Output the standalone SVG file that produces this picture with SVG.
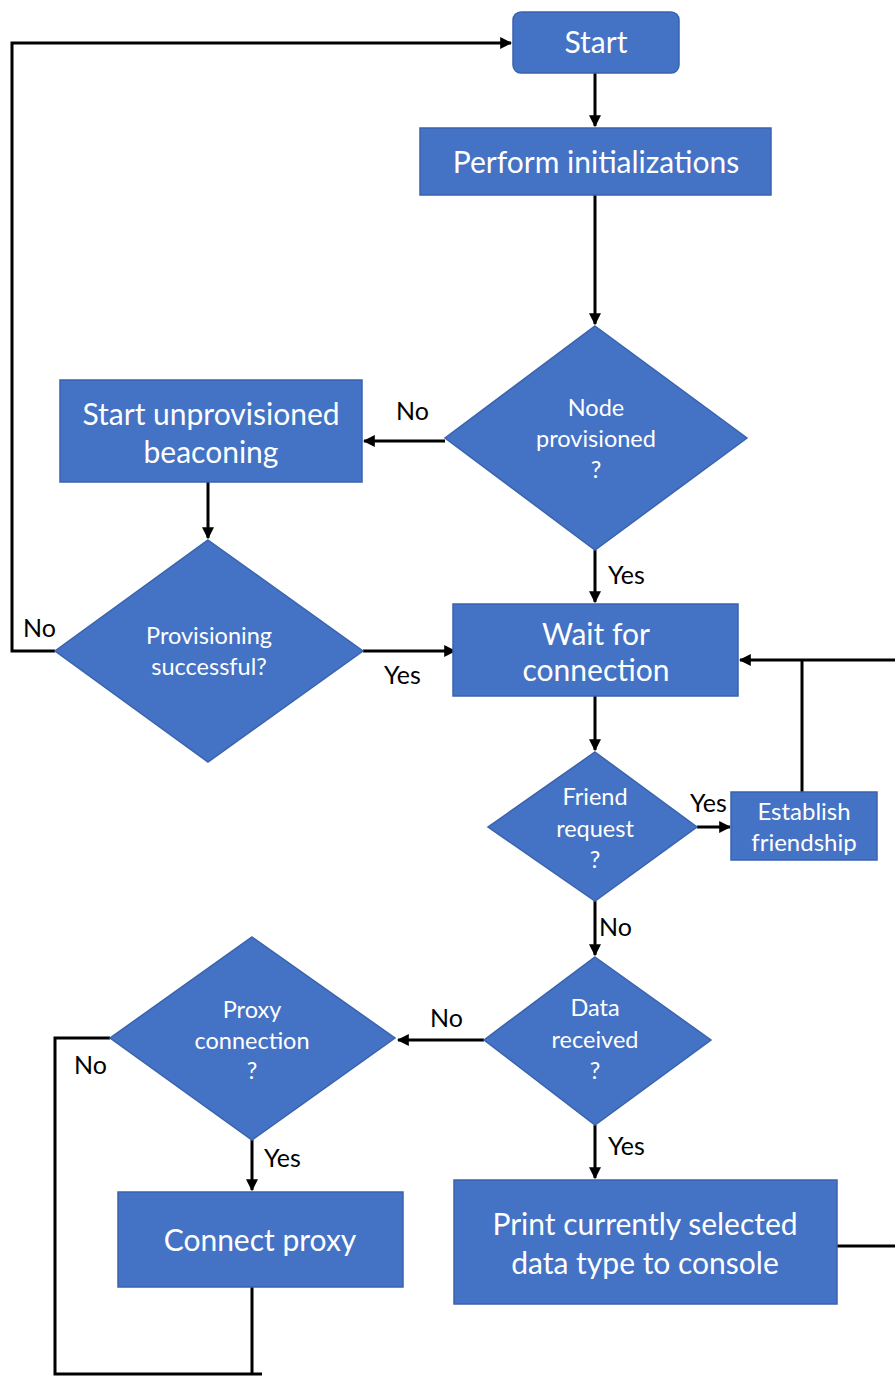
<svg xmlns="http://www.w3.org/2000/svg" width="895" height="1376" viewBox="0 0 895 1376">
<style>
.n{fill:#4472C4;stroke:#3A63AE;stroke-width:1.5}
.t{fill:#fff;font-family:Lato,"Open Sans",sans-serif;text-anchor:middle}
.b{font-size:30px}
.d{font-size:23.5px}
.l{fill:#000;font-family:Lato,"Open Sans",sans-serif;font-size:25px}
.c{fill:none;stroke:#000;stroke-width:3}
</style>
<defs>
<marker id="a" viewBox="0 0 10 10" refX="9" refY="5" markerWidth="4" markerHeight="4" orient="auto" markerUnits="strokeWidth">
<path d="M0,0L10,5L0,10z" fill="#000"/>
</marker>
</defs>
<rect width="895" height="1376" fill="#fff"/>
<g id="connectors">
<path class="c" d="M595,73V126" marker-end="url(#a)"/>
<path class="c" d="M595,195V324" marker-end="url(#a)"/>
<path class="c" d="M445,441H364" marker-end="url(#a)"/>
<path class="c" d="M208,482V538" marker-end="url(#a)"/>
<path class="c" d="M363,651H455" marker-end="url(#a)"/>
<path class="c" d="M55,651H12V43H511" marker-end="url(#a)"/>
<path class="c" d="M595,550V602" marker-end="url(#a)"/>
<path class="c" d="M895,660H740" marker-end="url(#a)"/>
<path class="c" d="M802,792V660"/>
<path class="c" d="M595,696V750" marker-end="url(#a)"/>
<path class="c" d="M697,827H730" marker-end="url(#a)"/>
<path class="c" d="M595,901V955" marker-end="url(#a)"/>
<path class="c" d="M484,1040H398" marker-end="url(#a)"/>
<path class="c" d="M252,1140V1190" marker-end="url(#a)"/>
<path class="c" d="M595,1125V1178" marker-end="url(#a)"/>
<path class="c" d="M837,1246H895"/>
<path class="c" d="M110,1038H55V1374H262"/>
<path class="c" d="M252,1287V1374"/>
<text class="l" x="396" y="420">No</text>
<text class="l" x="384" y="684">Yes</text>
<text class="l" x="23" y="637">No</text>
<text class="l" x="608" y="584">Yes</text>
<text class="l" x="690" y="812">Yes</text>
<text class="l" x="599" y="936">No</text>
<text class="l" x="430" y="1027">No</text>
<text class="l" x="74" y="1074">No</text>
<text class="l" x="264" y="1167">Yes</text>
<text class="l" x="608" y="1155">Yes</text>
</g>
<g id="start"><rect class="n" x="513" y="12" width="166" height="61" rx="8"/><text class="t b" x="596" y="53">Start</text></g>
<g id="init"><rect class="n" x="420" y="128" width="351" height="67"/><text class="t b" x="596" y="173">Perform initializations</text></g>
<g id="nodeprov"><polygon class="n" points="595,326 747,438 595,550 445,438"/><text class="t d"><tspan x="596" y="416">Node</tspan><tspan x="596" y="447">provisioned</tspan><tspan x="596" y="478">?</tspan></text></g>
<g id="beacon"><rect class="n" x="60" y="380" width="302" height="102"/><text class="t b"><tspan x="211" y="425">Start unprovisioned</tspan><tspan x="211" y="463">beaconing</tspan></text></g>
<g id="provsucc"><polygon class="n" points="208,540 363,651 208,762 55,651"/><text class="t d"><tspan x="209" y="644">Provisioning</tspan><tspan x="209" y="675">successful?</tspan></text></g>
<g id="wait"><rect class="n" x="453" y="604" width="285" height="92"/><text class="t b"><tspan x="596" y="645">Wait for</tspan><tspan x="596" y="681">connection</tspan></text></g>
<g id="friend"><polygon class="n" points="595,752 697,827 595,901 488,827"/><text class="t d"><tspan x="595" y="805">Friend</tspan><tspan x="595" y="837">request</tspan><tspan x="595" y="868">?</tspan></text></g>
<g id="establish"><rect class="n" x="731" y="792" width="146" height="68"/><text class="t" font-size="24"><tspan x="804" y="820">Establish</tspan><tspan x="804" y="851">friendship</tspan></text></g>
<g id="data"><polygon class="n" points="595,957 711,1040 595,1125 484,1040"/><text class="t d"><tspan x="595" y="1016">Data</tspan><tspan x="595" y="1048">received</tspan><tspan x="595" y="1079">?</tspan></text></g>
<g id="proxy"><polygon class="n" points="252,937 395,1038 252,1140 110,1038"/><text class="t d"><tspan x="252" y="1018">Proxy</tspan><tspan x="252" y="1049">connection</tspan><tspan x="252" y="1079">?</tspan></text></g>
<g id="connect"><rect class="n" x="118" y="1192" width="285" height="95"/><text class="t b" x="260" y="1251">Connect proxy</text></g>
<g id="print"><rect class="n" x="454" y="1180" width="383" height="124"/><text class="t b"><tspan x="645" y="1235">Print currently selected</tspan><tspan x="645" y="1274">data type to console</tspan></text></g>
</svg>
